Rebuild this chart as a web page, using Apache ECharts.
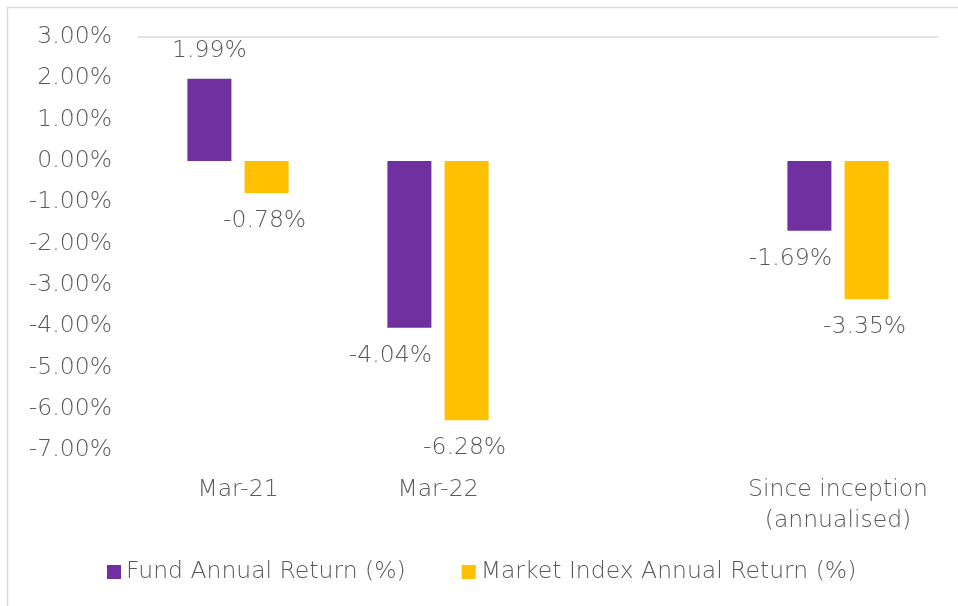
<!DOCTYPE html>
<html>
<head>
<meta charset="utf-8">
<script src="https://cdn.jsdelivr.net/npm/echarts@6/dist/echarts.min.js"></script>
<style>
  html, body { margin: 0; padding: 0; background: #fff; }
  #chart { width: 958px; height: 606px; }
</style>
</head>
<body>
<div id="chart"></div>
<script>
var categories = ["Mar-21", "Mar-22", "", "Since inception\n(annualised)"];
var seriesNames = ["Fund Annual Return (%)", "Market Index Annual Return (%)"];
var fundValues = [1.99, -4.04, null, -1.69];
var marketValues = [-0.78, -6.28, null, -3.35];
var yMin = -7, yMax = 3, yStep = 1;

var textColor = "#595959";
var font = "DejaVu Sans";
var fs = 23.5;

function toData(values, negOffset) {
  return values.map(function (v) {
    if (v === null) return "-";
    return {
      value: v,
      label: {
        position: v >= 0 ? "top" : "bottom",
        offset: v >= 0 ? [0, 0] : [negOffset, 0]
      }
    };
  });
}

var chart = echarts.init(document.getElementById("chart"));
var option = {
  backgroundColor: "#fff",
  animation: false,
  graphic: [{
    type: "rect",
    shape: { x: 7.5, y: 7.5, width: 1000, height: 1000 },
    style: { fill: "none", stroke: "#d9d9d9", lineWidth: 1.5 },
    silent: true
  }],
  textStyle: { fontFamily: font, color: textColor, fontWeight: 200 },
  grid: { left: 138, right: 20, top: 37, bottom: 156 },
  legend: {
    left: 107,
    top: 560,
    padding: 0,
    itemWidth: 14,
    itemHeight: 14,
    itemGap: 56,
    icon: "rect",
    textStyle: { fontFamily: font, fontSize: fs, fontWeight: 200, color: textColor },
    data: seriesNames
  },
  xAxis: [{
    type: "category",
    data: categories,
    axisLine: { show: false },
    axisTick: { show: false },
    axisLabel: { margin: 24, fontSize: fs, fontWeight: 200, color: textColor, fontFamily: font, lineHeight: 31, interval: 0 }
  }, {
    type: "category",
    data: categories,
    axisLine: { show: true, onZero: true, lineStyle: { color: "#d9d9d9", width: 1.5 } },
    axisTick: { show: false },
    axisLabel: { show: false }
  }],
  yAxis: {
    type: "value",
    min: yMin,
    max: yMax,
    interval: yStep,
    splitLine: { show: false },
    axisLine: { show: false },
    axisTick: { show: false },
    axisLabel: {
      margin: 26,
      fontSize: fs,
      fontWeight: 200,
      color: textColor,
      fontFamily: font,
      formatter: function (v) { return v.toFixed(2) + "%"; }
    }
  },
  series: [{
    name: seriesNames[0],
    type: "bar",
    barWidth: 44,
    barGap: "30%",
    itemStyle: { color: "#7030A0" },
    label: {
      show: true,
      distance: 16,
      fontSize: fs,
      fontWeight: 200,
      color: textColor,
      fontFamily: font,
      formatter: function (p) { return p.value.toFixed(2) + "%"; }
    },
    data: toData(fundValues, -19)
  }, {
    name: seriesNames[1],
    type: "bar",
    barWidth: 44,
    barGap: "30%",
    itemStyle: { color: "#FFC000" },
    label: {
      show: true,
      distance: 16,
      fontSize: fs,
      fontWeight: 200,
      color: textColor,
      fontFamily: font,
      formatter: function (p) { return p.value.toFixed(2) + "%"; }
    },
    data: toData(marketValues, -2)
  }]
};
chart.setOption(option);
</script>
</body>
</html>
